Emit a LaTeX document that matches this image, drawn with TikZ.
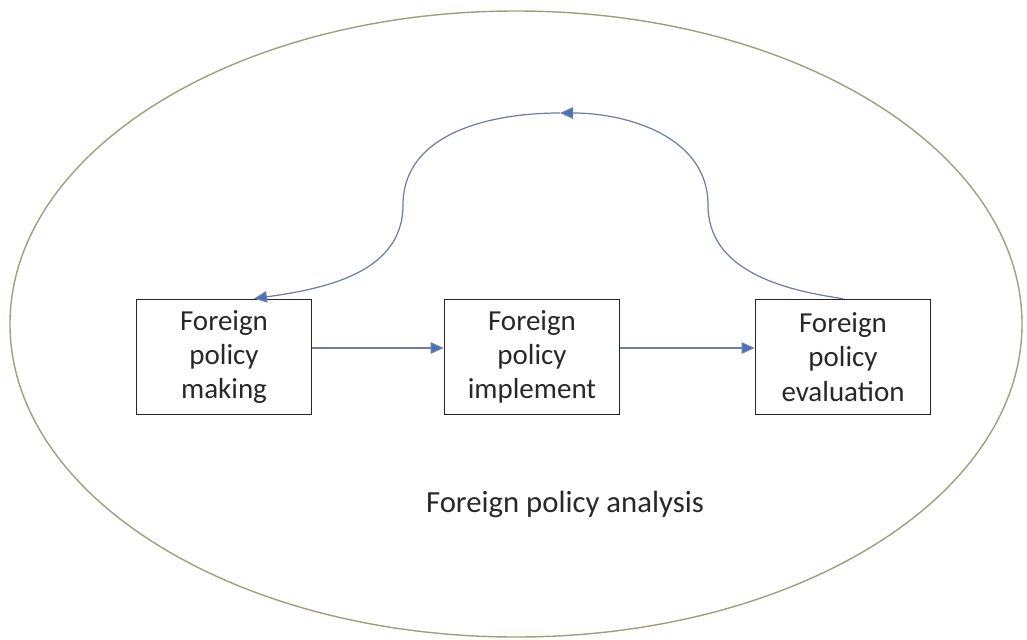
\documentclass[tikz,border=0pt]{standalone}
\usepackage{fontspec}
\setmainfont{Carlito}
\usetikzlibrary{arrows.meta,positioning}
\definecolor{fpaBlue}{RGB}{68,114,196}
\definecolor{fpaLine}{RGB}{110,125,165}
\definecolor{fpaOlive}{RGB}{160,160,120}
\definecolor{fpaText}{RGB}{40,40,40}
\tikzset{
  stagebox/.style={
    rectangle, draw=black!85, line width=1pt, fill=white, text=fpaText,
    align=center, minimum width=3.5cm, minimum height=2.3cm,
    font=\fontsize{16.5}{19.5}\selectfont},
  flowline/.style={-{Triangle[length=2.6mm,width=2.3mm,fill=fpaBlue]},
    draw=fpaLine, line width=0.7pt, color=fpaLine},
  analysisring/.style={draw=fpaOlive, line width=0.8pt}
}

\begin{document}
\begin{tikzpicture}[x=0.02cm, y=-0.02cm]
    \useasboundingbox (0,0) rectangle (1027,639);

    % ---- outer ellipse -----------------------------------------
    \draw[analysisring] (516,324) ellipse [x radius=506, y radius=313];
    \node[font=\fontsize{17.5}{20}\selectfont, text=fpaText] (fpa) at (565,504) {Foreign policy analysis};

    % ---- the three stages --------------------------------------
    \node[stagebox] (making) at (224,357) {Foreign\\policy\\making};
    \node[stagebox] (implement) at (532,357) {Foreign\\policy\\implement};
    \node[stagebox] (evaluation) at (843,357) {Foreign\\policy\\evaluation};

    \draw[flowline] ([yshift=0.18cm]making.east) -- ([yshift=0.18cm]implement.west);
    \draw[flowline] ([yshift=0.18cm]implement.east) -- ([yshift=0.18cm]evaluation.west);

    % ---- feedback loop over the top ----------------------------
    \coordinate (rbend) at (708,205);
    \coordinate (peak)  at (560,113);
    \coordinate (lbend) at (403,205);
    \draw[flowline] (evaluation.north) to[out=172,in=-90] (rbend) to[out=90,in=0] (peak);
    \draw[flowline] (peak) to[out=180,in=90] (lbend) to[out=-90,in=8] ([xshift=0.6cm]making.north);

\end{tikzpicture}
\end{document}
